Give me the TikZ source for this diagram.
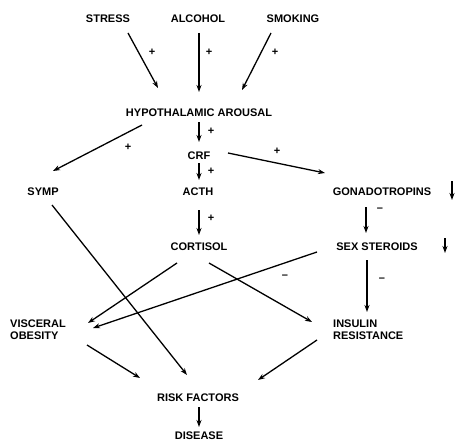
\documentclass[tikz,border=0pt]{standalone}
\usepackage{fontspec}
\setmainfont{Liberation Sans}
\usetikzlibrary{arrows.meta,calc}
\begin{document}
\begin{tikzpicture}[x=1pt,y=-1pt,
  lbl/.style={font=\fontsize{11}{12}\selectfont\bfseries, inner sep=0pt, text height=8pt, text depth=0pt},
  lbltwo/.style={font=\fontsize{11}{12}\selectfont\bfseries, inner sep=0pt, align=left},
  arr/.style={line width=1.3pt, -{Stealth[length=7pt,width=5pt]}},
  sgn/.style={font=\fontsize{11}{11}\selectfont\bfseries, inner sep=0pt}]
\useasboundingbox[fill=white] (0,0) rectangle (465,441);
% nodes
\node[lbl] (stress) at (108,19) {STRESS};
\node[lbl] (alcohol) at (198,19) {ALCOHOL};
\node[lbl] (smoking) at (293,19) {SMOKING};
\node[lbl] (ha) at (199,113) {HYPOTHALAMIC AROUSAL};
\node[lbl] (crf) at (199,155) {CRF};
\node[lbl] (symp) at (43,191) {SYMP};
\node[lbl] (acth) at (198,191) {ACTH};
\node[lbl] (gonado) at (382,191) {GONADOTROPINS};
\node[lbl] (cortisol) at (199,246) {CORTISOL};
\node[lbl] (sex) at (377,246) {SEX STEROIDS};
\node[lbltwo, anchor=west] (visc) at (10,330) {VISCERAL\\OBESITY};
\node[lbltwo, anchor=west] (ins) at (333,330) {INSULIN\\RESISTANCE};
\node[lbl] (risk) at (198,397) {RISK FACTORS};
\node[lbl] (disease) at (199,435) {DISEASE};
% connectors
\draw[arr] ($(stress)+(20,14)$) -- ($(ha)+(-41,-25)$);
\draw[arr] ($(alcohol)+(1,14)$) -- ($(ha)+(0,-21)$);
\draw[arr] ($(smoking)+(-22,14)$) -- ($(ha)+(43,-23)$);
\draw[arr] ($(ha)+(0,9)$) -- ($(crf)+(0,-13)$);
\draw[arr] ($(ha)+(-57,12)$) -- ($(symp)+(10,-20)$);
\draw[arr] ($(crf)+(29,-2)$) -- ($(gonado)+(-57,-18)$);
\draw[arr] ($(crf)+(0,8)$) -- ($(acth)+(1,-11)$);
\draw[arr] ($(acth)+(1,19)$) -- ($(cortisol)+(0,-11)$);
\draw[arr] ($(gonado)+(-16,16)$) -- ($(sex)+(-11,-13)$);
\draw[arr] ($(sex)+(-10,14)$) -- ($(ins.west)+(34,-18)$);
\draw[arr] ($(sex)+(-60,6)$) -- ($(visc.west)+(83,-2)$);
\draw[arr] ($(cortisol)+(-22,17)$) -- ($(visc.west)+(78,-7)$);
\draw[arr] ($(cortisol)+(10,17)$) -- ($(ins.west)+(-21,-8)$);
\draw[arr] ($(symp)+(9,14)$) -- ($(risk)+(-11,-22)$);
\draw[arr] ($(visc.west)+(77,15)$) -- ($(risk)+(-58,-19)$);
\draw[arr] ($(ins.west)+(-16,10)$) -- ($(risk)+(60,-17)$);
\draw[arr] ($(risk)+(1,10)$) -- ($(disease)+(0,-8)$);
% down markers
\draw[arr] ($(gonado)+(70,-10)$) -- ($(gonado)+(70,9)$);
\draw[arr] ($(sex)+(68,-8)$) -- ($(sex)+(68,7)$);
% signs
\node[sgn] (p1) at (152,52) {+};
\node[sgn] (p2) at (209,52) {+};
\node[sgn] (p3) at (275,52) {+};
\node[sgn] (p4) at (211,131) {+};
\node[sgn] (p5) at (128,147) {+};
\node[sgn] (p6) at (211,171) {+};
\node[sgn] (p7) at (277,151) {+};
\node[sgn] (p8) at (211,218) {+};
\node[sgn] (m1) at (380,210) {--};
\node[sgn] (m2) at (285,277) {--};
\node[sgn] (m3) at (382,280) {--};
\end{tikzpicture}
\end{document}
